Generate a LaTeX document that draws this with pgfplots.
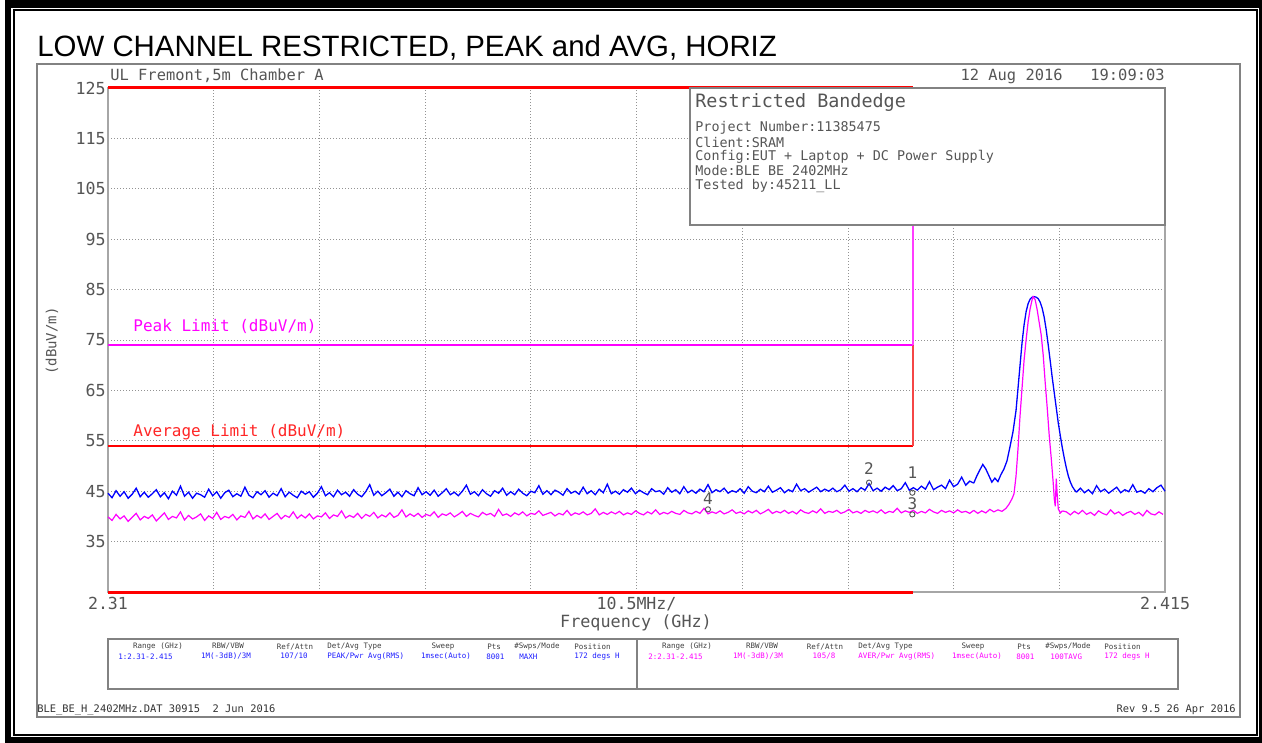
\documentclass[border=0pt]{standalone}
\usepackage{pgfplots}
\pgfplotsset{compat=1.18}
\usepackage{pgfplotstable}
\usepackage{fontspec}
\setmainfont{Liberation Sans}
\newfontfamily\hp{DejaVu Sans Mono}
\definecolor{tr1}{RGB}{0,0,255}
\definecolor{tr2}{RGB}{255,0,255}
\definecolor{lim}{RGB}{255,0,0}
\definecolor{txtg}{RGB}{85,85,85}
\definecolor{frameg}{RGB}{130,130,130}
\definecolor{tblue}{RGB}{30,30,255}
\definecolor{vpink}{RGB}{255,60,255}
\definecolor{vred}{RGB}{245,70,70}

% PEAK trace (blue), 2.3100 ... 2.3960 GHz, step 0.0004
\pgfplotstableread[row sep=\\]{
y\\
44.6\\ 43.7\\ 45.1\\ 44.0\\ 44.9\\ 43.6\\ 44.4\\ 45.6\\ 43.9\\ 44.8\\
43.8\\ 44.5\\ 45.3\\ 43.9\\ 44.7\\ 43.5\\ 45.0\\ 44.2\\ 46.0\\ 44.0\\
44.8\\ 43.6\\ 44.6\\ 44.3\\ 43.8\\ 45.4\\ 44.1\\ 44.9\\ 43.6\\ 44.7\\
45.2\\ 43.9\\ 44.5\\ 44.0\\ 45.8\\ 44.2\\ 43.7\\ 44.9\\ 44.3\\ 45.1\\
43.8\\ 44.6\\ 44.1\\ 45.5\\ 43.9\\ 44.8\\ 44.2\\ 43.7\\ 45.0\\ 44.4\\
44.9\\ 43.8\\ 44.6\\ 45.9\\ 44.1\\ 44.7\\ 43.9\\ 45.2\\ 44.3\\ 44.8\\
44.0\\ 45.3\\ 44.4\\ 43.9\\ 44.9\\ 46.3\\ 44.2\\ 45.0\\ 44.1\\ 44.7\\
45.4\\ 44.0\\ 44.8\\ 43.9\\ 45.1\\ 44.5\\ 44.1\\ 45.7\\ 44.3\\ 44.9\\
44.2\\ 45.2\\ 44.0\\ 44.7\\ 45.5\\ 44.3\\ 44.8\\ 44.1\\ 45.0\\ 46.2\\
44.4\\ 44.9\\ 44.1\\ 45.3\\ 44.5\\ 44.0\\ 45.1\\ 44.6\\ 45.6\\ 44.2\\
44.9\\ 44.3\\ 45.4\\ 44.6\\ 44.1\\ 45.0\\ 44.7\\ 46.1\\ 44.4\\ 45.1\\
44.3\\ 45.2\\ 44.8\\ 44.2\\ 45.5\\ 44.6\\ 45.0\\ 44.4\\ 45.8\\ 44.5\\
45.1\\ 44.3\\ 45.4\\ 44.7\\ 46.4\\ 44.5\\ 45.0\\ 44.4\\ 45.3\\ 44.8\\
45.6\\ 44.5\\ 45.2\\ 44.7\\ 44.3\\ 45.5\\ 44.9\\ 45.1\\ 44.4\\ 45.7\\
44.8\\ 45.3\\ 44.5\\ 45.9\\ 44.7\\ 45.2\\ 44.6\\ 45.4\\ 44.9\\ 46.3\\
44.7\\ 45.3\\ 44.9\\ 45.6\\ 44.6\\ 45.1\\ 44.8\\ 45.5\\ 44.6\\ 45.9\\
45.0\\ 44.7\\ 45.4\\ 44.9\\ 46.0\\ 44.8\\ 45.2\\ 45.7\\ 44.7\\ 45.3\\
44.9\\ 46.4\\ 45.1\\ 45.5\\ 44.8\\ 45.3\\ 45.8\\ 44.9\\ 45.4\\ 45.0\\
45.6\\ 44.9\\ 45.3\\ 46.2\\ 45.0\\ 45.5\\ 44.9\\ 45.7\\ 45.2\\ 46.5\\
45.1\\ 45.6\\ 45.0\\ 45.8\\ 45.3\\ 46.1\\ 45.1\\ 45.5\\ 46.7\\ 45.2\\
45.7\\ 45.2\\ 46.0\\ 45.4\\ 46.9\\ 45.3\\ 45.8\\ 46.2\\ 45.5\\ 47.2\\
45.9\\ 46.4\\ 47.8\\ 46.2\\ 47.0\\ 46.6\\
}\blueA

\pgfplotstableread{
x y
2.3960 46.6
2.3963 48.0
2.3966 49.2
2.3969 50.3
2.3972 49.4
2.3975 48.1
2.3978 46.8
2.3981 47.6
2.3984 46.9
2.3987 48.3
2.3990 49.4
2.3993 51.0
2.3996 53.8
2.3999 56.8
2.4002 61.0
2.4004 65.5
2.4006 70.0
2.4008 74.5
2.4010 78.0
2.4012 80.6
2.4014 82.2
2.4016 83.1
2.4018 83.5
2.4020 83.6
2.4022 83.5
2.4024 83.2
2.4026 82.5
2.4028 81.3
2.4030 79.5
2.4032 77.0
2.4034 74.0
2.4036 70.8
2.4038 67.5
2.4040 64.5
2.4042 61.5
2.4044 58.5
2.4046 56.0
2.4048 53.6
2.4050 51.5
2.4052 49.6
2.4054 48.0
2.4056 46.8
2.4058 45.9
2.4060 45.3
2.4062 44.8
}\blueB

% blue, 2.4062 ... 2.4150 GHz, step 0.0004
\pgfplotstableread[row sep=\\]{
y\\
44.8\\ 45.6\\ 44.7\\ 45.3\\ 44.5\\ 46.1\\ 44.9\\ 45.4\\ 44.6\\ 45.2\\
45.8\\ 44.7\\ 45.3\\ 44.9\\ 46.3\\ 44.8\\ 45.1\\ 44.6\\ 45.5\\ 44.9\\
45.7\\ 46.2\\ 45.0\\
}\blueC

% AVERAGE trace (magenta), 2.3100 ... 2.3960 GHz, step 0.0004
\pgfplotstableread[row sep=\\]{
y\\
39.9\\ 39.2\\ 40.4\\ 39.5\\ 40.1\\ 39.0\\ 39.8\\ 40.6\\ 39.3\\ 40.0\\
39.6\\ 40.3\\ 39.1\\ 39.9\\ 40.7\\ 39.4\\ 40.0\\ 39.7\\ 40.9\\ 39.3\\
40.2\\ 39.5\\ 39.9\\ 40.5\\ 39.2\\ 40.1\\ 39.6\\ 40.8\\ 39.4\\ 40.0\\
39.7\\ 40.4\\ 39.3\\ 40.1\\ 39.8\\ 41.0\\ 39.5\\ 40.2\\ 39.7\\ 40.5\\
39.4\\ 40.0\\ 40.6\\ 39.5\\ 40.2\\ 39.8\\ 40.9\\ 39.6\\ 40.3\\ 39.7\\
40.5\\ 39.5\\ 40.1\\ 39.9\\ 40.7\\ 39.6\\ 40.3\\ 40.0\\ 41.1\\ 39.7\\
40.2\\ 39.8\\ 40.6\\ 39.6\\ 40.4\\ 40.0\\ 40.8\\ 39.7\\ 40.3\\ 39.9\\
40.7\\ 39.8\\ 40.2\\ 41.3\\ 39.9\\ 40.5\\ 40.0\\ 40.6\\ 39.8\\ 40.4\\
40.1\\ 40.9\\ 39.8\\ 40.5\\ 40.2\\ 40.7\\ 39.9\\ 40.4\\ 41.0\\ 40.0\\
40.6\\ 40.2\\ 39.9\\ 40.8\\ 40.3\\ 40.6\\ 40.0\\ 41.4\\ 40.2\\ 40.5\\
40.0\\ 40.7\\ 40.3\\ 40.9\\ 40.1\\ 40.6\\ 40.4\\ 41.1\\ 40.2\\ 40.5\\
40.8\\ 40.1\\ 40.6\\ 40.3\\ 41.2\\ 40.2\\ 40.7\\ 40.4\\ 40.9\\ 40.3\\
40.6\\ 41.5\\ 40.3\\ 40.8\\ 40.4\\ 40.9\\ 40.5\\ 41.0\\ 40.3\\ 40.7\\
40.4\\ 41.1\\ 40.6\\ 40.3\\ 40.9\\ 40.5\\ 41.3\\ 40.4\\ 40.8\\ 40.5\\
41.0\\ 40.6\\ 40.4\\ 41.2\\ 40.7\\ 40.5\\ 41.0\\ 40.6\\ 41.6\\ 40.5\\
40.9\\ 40.6\\ 41.1\\ 40.5\\ 40.8\\ 41.3\\ 40.6\\ 40.9\\ 40.5\\ 41.1\\
40.7\\ 41.2\\ 40.5\\ 40.9\\ 41.4\\ 40.6\\ 41.0\\ 40.7\\ 41.2\\ 40.6\\
41.0\\ 40.5\\ 41.3\\ 40.8\\ 40.6\\ 41.1\\ 40.7\\ 41.5\\ 40.6\\ 41.0\\
40.8\\ 41.2\\ 40.6\\ 40.9\\ 41.4\\ 40.7\\ 41.0\\ 40.6\\ 41.2\\ 40.8\\
41.1\\ 40.7\\ 41.3\\ 40.6\\ 41.0\\ 40.8\\ 41.6\\ 40.7\\ 41.1\\ 40.8\\
41.2\\ 40.6\\ 41.0\\ 40.7\\ 41.4\\ 40.9\\ 40.6\\ 41.2\\ 40.8\\ 41.1\\
40.7\\ 41.3\\ 40.8\\ 41.0\\ 40.6\\ 41.2\\
}\magA

\pgfplotstableread{
x y
2.3960 41.2
2.3964 40.6
2.3968 41.1
2.3972 40.7
2.3976 41.4
2.3980 40.9
2.3984 41.3
2.3988 41.0
2.3992 41.6
2.3995 42.4
2.3998 43.5
2.4000 44.5
2.4002 48.0
2.4004 53.5
2.4006 60.0
2.4008 65.5
2.4010 71.0
2.4012 75.0
2.4014 78.6
2.4016 81.2
2.4018 83.0
2.4019 83.6
2.4021 83.0
2.4023 81.0
2.4025 78.5
2.4027 76.0
2.4029 72.0
2.4031 66.5
2.4033 61.5
2.4035 56.0
2.4037 51.5
2.4039 46.5
2.4040 43.5
2.4041 42.0
2.4042 47.5
2.4043 44.0
2.4044 41.5
2.4046 40.7
2.4048 41.1
}\magB

% magenta, 2.4048 ... 2.4148 GHz, step 0.0004
\pgfplotstableread[row sep=\\]{
y\\
41.1\\ 40.9\\ 40.3\\ 41.0\\ 40.5\\ 41.2\\ 40.4\\ 40.8\\ 40.2\\ 41.1\\
40.6\\ 40.3\\ 41.3\\ 40.5\\ 40.9\\ 40.2\\ 40.7\\ 41.0\\ 40.4\\ 40.8\\
40.1\\ 41.2\\ 40.5\\ 40.3\\ 40.9\\ 40.4\\
}\magC

\begin{document}
\begin{tikzpicture}
% ---------- outer frame ----------
\begin{scope}[x=0.5pt,y=-0.5pt]
  \fill[white] (0,0) rectangle (1262,743);
  \fill[black] (5,0) rectangle (1262,743);
  \fill[white] (11,8) rectangle (1259,737);
  \draw[black,line width=1pt] (13.5,10.5) rectangle (1256.5,734.5);
  \draw[frameg,line width=0.6pt] (37,64) rectangle (1240,717);
  \node[anchor=west,inner sep=0pt] at (37,48)
    {\fontsize{14.7}{16}\selectfont LOW CHANNEL RESTRICTED, PEAK and AVG, HORIZ};
\end{scope}

\begin{axis}[
  at={(54pt,-296pt)}, anchor=south west,
  scale only axis, width=528.5pt, height=252pt,
  xmin=2.31, xmax=2.415, ymin=25, ymax=125,
  clip=false,
  xtick={2.31,2.3205,2.331,2.3415,2.352,2.3625,2.373,2.3835,2.394,2.4045,2.415},
  xticklabels={2.31,,,,,10.5MHz/,,,,,2.415},
  ytick={25,35,45,55,65,75,85,95,105,115,125},
  yticklabels={,35,45,55,65,75,85,95,105,115,125},
  grid=major,
  major grid style={gray!85,line width=0.4pt,dash pattern=on 0.5pt off 1pt},
  axis line style={gray!70,line width=0.8pt},
  major tick length=0pt,
  tick label style={font=\hp\fontsize{8.3}{10}\selectfont,text=txtg},
  yticklabel style={inner sep=1pt},
  xticklabel style={inner sep=0pt,yshift=-2.5pt},
]
% limit lines
\addplot[lim,line width=1.5pt] coordinates {(2.31,125) (2.39,125)};
\addplot[lim,line width=1.5pt] coordinates {(2.31,25) (2.39,25)};
\addplot[lim,line width=0.8pt] coordinates {(2.31,54) (2.39,54)};
\addplot[vred,line width=0.9pt] coordinates {(2.39,54) (2.39,74)};
\addplot[tr2,line width=1.1pt] coordinates {(2.31,74) (2.39,74)};
\addplot[vpink,line width=0.9pt] coordinates {(2.39,74) (2.39,125)};
% traces
\addplot[tr1,line width=0.65pt] table[x expr=2.31+\coordindex*0.0004,y=y] {\blueA};
\addplot[tr1,line width=0.65pt] table[x=x,y=y] {\blueB};
\addplot[tr1,line width=0.65pt] table[x expr=2.4062+\coordindex*0.0004,y=y] {\blueC};
\addplot[tr2,line width=0.6pt] table[x expr=2.31+\coordindex*0.0004,y=y] {\magA};
\addplot[tr2,line width=0.6pt] table[x=x,y=y] {\magB};
\addplot[tr2,line width=0.6pt] table[x expr=2.4048+\coordindex*0.0004,y=y] {\magC};
% markers
\addplot[only marks,mark=o,mark size=1.3pt,txtg,line width=0.45pt] coordinates
  {(2.3856,46.7) (2.3899,44.7) (2.3899,40.4) (2.3696,41.4)};
\node[text=txtg,font=\hp\fontsize{8}{9}\selectfont,inner sep=0pt] at (axis cs:2.3856,49.4) {2};
\node[text=txtg,font=\hp\fontsize{8}{9}\selectfont,inner sep=0pt] at (axis cs:2.3899,48.6) {1};
\node[text=txtg,font=\hp\fontsize{8}{9}\selectfont,inner sep=0pt] at (axis cs:2.3899,42.6) {3};
\node[text=txtg,font=\hp\fontsize{8}{9}\selectfont,inner sep=0pt] at (axis cs:2.3696,43.6) {4};
\end{axis}

% ---------- annotations ----------
\begin{scope}[x=0.5pt,y=-0.5pt]
  \tikzset{hpt/.style={inner sep=0pt,text=txtg}}
  \node[hpt,anchor=west] at (110,76) {\hp\fontsize{7.7}{9}\selectfont UL Fremont,5m Chamber A};
  \node[hpt,anchor=east] at (1165,76) {\hp\fontsize{7.7}{9}\selectfont 12 Aug 2016\ \ \ 19:09:03};
  \node[inner sep=0pt,anchor=west,text=tr2] at (133,326.7) {\hp\fontsize{8}{9}\selectfont Peak Limit (dBuV/m)};
  \node[inner sep=0pt,anchor=west,text=lim!85] at (133,432.3) {\hp\fontsize{8}{9}\selectfont Average Limit (dBuV/m)};
  \node[hpt,rotate=90] at (52,341) {\hp\fontsize{7}{8}\selectfont (dBuV/m)};
  \node[hpt] at (636,623) {\hp\fontsize{8.4}{10}\selectfont Frequency (GHz)};
  % info box
  \draw[frameg,fill=white,line width=0.6pt] (690,88) rectangle (1165,225);
  \node[hpt,anchor=west] at (695,102.7) {\hp\fontsize{9.2}{11}\selectfont Restricted Bandedge};
  \node[hpt,anchor=west] at (695,128.3) {\hp\fontsize{6.7}{8}\selectfont Project Number:11385475};
  \node[hpt,anchor=west] at (695,142) {\hp\fontsize{6.7}{8}\selectfont Client:SRAM};
  \node[hpt,anchor=west] at (695,156.5) {\hp\fontsize{6.7}{8}\selectfont Config:EUT + Laptop + DC Power Supply};
  \node[hpt,anchor=west] at (695,171) {\hp\fontsize{6.7}{8}\selectfont Mode:BLE BE 2402MHz};
  \node[hpt,anchor=west] at (695,185.7) {\hp\fontsize{6.7}{8}\selectfont Tested by:45211\_LL};
  % settings table
  \draw[frameg,line width=0.6pt] (108,639) rectangle (1178,689);
  \draw[frameg,line width=0.6pt] (637,639) -- (637,689);
  \tikzset{th/.style={inner sep=0pt,text=black!75,font=\hp\fontsize{3.75}{4.5}\selectfont},
           tb/.style={inner sep=0pt,text=tblue,font=\hp\fontsize{3.75}{4.5}\selectfont},
           tm/.style={inner sep=0pt,text=tr2,font=\hp\fontsize{3.75}{4.5}\selectfont}}
  % left half headers
  \node[th] at (158,646.5) {Range (GHz)};
  \node[th] at (228,646.5) {RBW/VBW};
  \node[th] at (295,646.5) {Ref/Attn};
  \node[th,anchor=west] at (327,646.5) {Det/Avg Type};
  \node[th] at (443,646.5) {Sweep};
  \node[th,anchor=west] at (487,646.5) {Pts};
  \node[th,anchor=west] at (514,646.5) {\#Swps/Mode};
  \node[th,anchor=west] at (574,646.5) {Position};
  \node[tb,anchor=west] at (118,656.5) {1:2.31-2.415};
  \node[tb] at (226,656.5) {1M(-3dB)/3M};
  \node[tb] at (294,656.5) {107/10};
  \node[tb,anchor=west] at (327,656.5) {PEAK/Pwr Avg(RMS)};
  \node[tb] at (446,656.5) {1msec(Auto)};
  \node[tb,anchor=west] at (486,656.5) {8001};
  \node[tb,anchor=west] at (519,656.5) {MAXH};
  \node[tb,anchor=west] at (574,656.5) {172 degs H};
  % right half
  \node[th] at (687,646.5) {Range (GHz)};
  \node[th] at (762,646.5) {RBW/VBW};
  \node[th] at (825,646.5) {Ref/Attn};
  \node[th,anchor=west] at (858,646.5) {Det/Avg Type};
  \node[th] at (973,646.5) {Sweep};
  \node[th,anchor=west] at (1017,646.5) {Pts};
  \node[th,anchor=west] at (1045,646.5) {\#Swps/Mode};
  \node[th,anchor=west] at (1104,646.5) {Position};
  \node[tm,anchor=west] at (648,656.5) {2:2.31-2.415};
  \node[tm] at (758,656.5) {1M(-3dB)/3M};
  \node[tm] at (824,656.5) {105/8};
  \node[tm,anchor=west] at (858,656.5) {AVER/Pwr Avg(RMS)};
  \node[tm] at (977,656.5) {1msec(Auto)};
  \node[tm,anchor=west] at (1016,656.5) {8001};
  \node[tm,anchor=west] at (1050,656.5) {100TAVG};
  \node[tm,anchor=west] at (1104,656.5) {172 degs H};
  % footer
  \node[hpt,anchor=west,text=black!80] at (37,709.5) {\hp\fontsize{5.2}{6}\selectfont BLE\_BE\_H\_2402MHz.DAT 30915\ \ 2 Jun 2016};
  \node[hpt,anchor=east,text=black!80] at (1236,710) {\hp\fontsize{5.2}{6}\selectfont Rev 9.5 26 Apr 2016};
\end{scope}
\end{tikzpicture}
\end{document}
